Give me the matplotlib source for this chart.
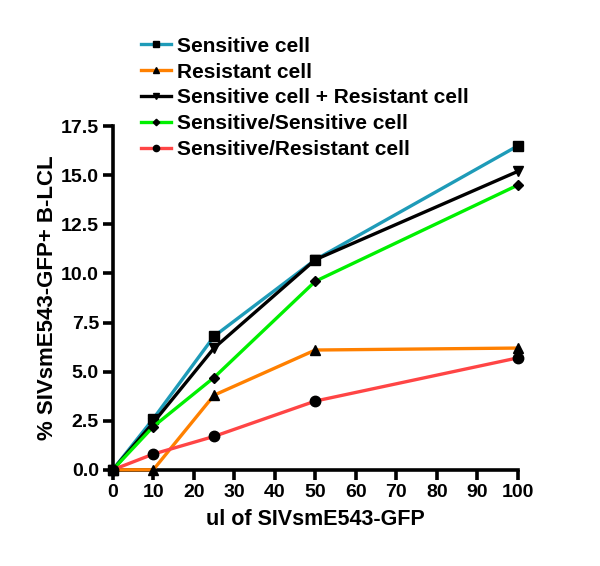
import matplotlib
matplotlib.use('Agg')
import matplotlib.pyplot as plt

# volume of virus (ul) and % infected cells
x_ul = [0, 10, 25, 50, 100]
sensitive = [0, 2.6, 6.8, 10.7, 16.5]
resistant = [0, 0.0, 3.8, 6.1, 6.2]
sens_plus_res = [0, 2.4, 6.2, 10.7, 15.2]
sens_sens = [0, 2.2, 4.7, 9.6, 14.5]
sens_res = [0, 0.8, 1.7, 3.5, 5.7]

labels = ['Sensitive cell', 'Resistant cell', 'Sensitive cell + Resistant cell',
          'Sensitive/Sensitive cell', 'Sensitive/Resistant cell']
colors = ['#1E9BB8', '#FF8000', '#000000', '#00F000', '#FF4545']
markers = ['s', '^', 'v', 'D', 'o']
msizes = [7, 7, 7, 5.5, 7.5]
yticks = [0, 2.5, 5, 7.5, 10, 12.5, 15, 17.5]
xticks = [0, 10, 20, 30, 40, 50, 60, 70, 80, 90, 100]

plt.rcParams['font.family'] = ['Liberation Sans', 'DejaVu Sans']
plt.rcParams['font.weight'] = 'bold'

fig = plt.figure(figsize=(6, 5.66), dpi=100)
ax = fig.add_axes([0.188, 0.170, 0.675, 0.607])

series = [sensitive, resistant, sens_plus_res, sens_sens, sens_res]
for y, lab, c, m, ms in zip(series, labels, colors, markers, msizes):
    ax.plot(x_ul, y, color=c, lw=2.4, marker=m, markersize=ms,
            markerfacecolor='black', markeredgecolor='black',
            label=lab, clip_on=False, zorder=3)

ax.set_xlim(0, 100)
ax.set_ylim(0, 17.5)
ax.set_xticks(xticks)
ax.set_yticks(yticks)
ax.set_yticklabels(['%.1f' % v for v in yticks])
ax.spines['top'].set_visible(False)
ax.spines['right'].set_visible(False)
for s in ['left', 'bottom']:
    ax.spines[s].set_linewidth(2.6)
ax.tick_params(direction='out', length=7.5, width=2.6, labelsize=14, pad=2.5)
for t in ax.get_xticklabels() + ax.get_yticklabels():
    t.set_fontweight('bold')

ax.set_xlabel('ul of SIVsmE543-GFP', fontsize=15.5, fontweight='bold', labelpad=6)
ax.set_ylabel('% SIVsmE543-GFP+ B-LCL', fontsize=16, fontweight='bold', labelpad=2)

leg = fig.legend(loc='upper left', bbox_to_anchor=(0.221, 0.950), frameon=False,
                 fontsize=15, handlelength=1.45, handletextpad=0.3,
                 labelspacing=0.33, borderaxespad=0, markerscale=0.6)
for t in leg.get_texts():
    t.set_fontweight('bold')

fig.savefig('out.png', dpi=100)
